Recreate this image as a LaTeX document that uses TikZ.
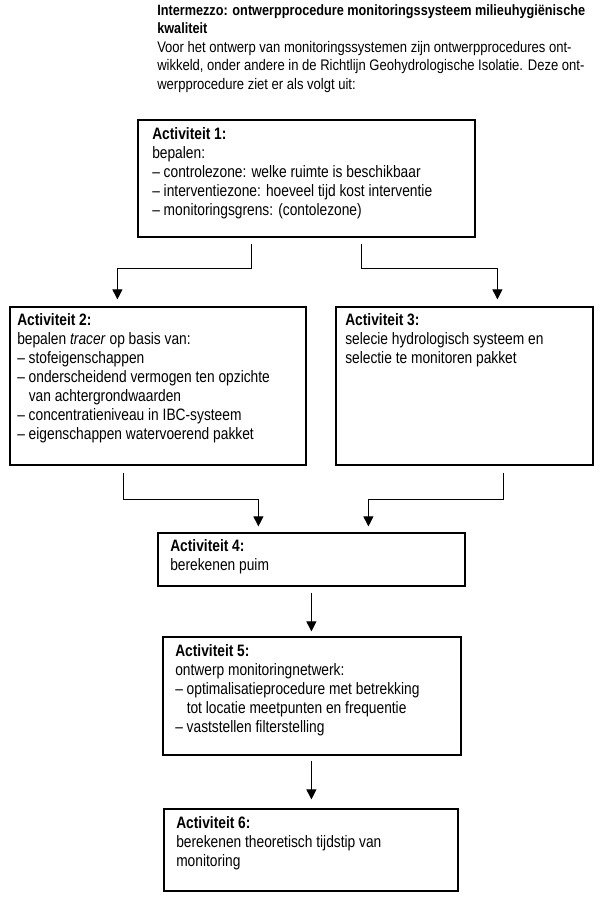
\documentclass[tikz,border=0pt]{standalone}
\usepackage{fontspec}
\setmainfont{Liberation Sans}[FakeStretch=0.833]
\newfontfamily\headfont{Liberation Sans}[FakeStretch=0.85]
\newfontfamily\headbold{Liberation Sans Bold}[FakeStretch=0.85]
\usetikzlibrary{arrows.meta,fit,calc}
\begin{document}
\begin{tikzpicture}[x=0.75pt,y=-0.75pt,
  box/.style={draw, line width=0.9pt, inner sep=0pt, rectangle},
  txt/.style={inner sep=0pt, anchor=north west, align=left, font=\fontsize{12.4}{14.25}\selectfont},
  conn/.style={line width=0.7pt, -{Triangle[width=7.5pt,length=7.5pt]}}]
\useasboundingbox (0,0) rectangle (603,900);
\node[txt, font=\headfont\fontsize{11.5}{13.9}\selectfont] (head) at (157,4)
  {{\headbold\fontsize{11.2}{13.9}\selectfont Intermezzo: ontwerpprocedure monitoringssysteem milieuhygiënische}\\
   {\headbold\fontsize{11.2}{13.9}\selectfont kwaliteit}\\
   Voor het ontwerp van monitoringssystemen zijn ontwerpprocedures ont-\\
   wikkeld, onder andere in de Richtlijn Geohydrologische Isolatie. Deze ont-\\
   werpprocedure ziet er als volgt uit:};
\node[box, fit={(138,120)(475,237)}] (b1) {};
\node[box, fit={(10,307)(306,465)}] (b2) {};
\node[box, fit={(336,307)(593,465)}] (b3) {};
\node[box, fit={(158,533)(465,586)}] (b4) {};
\node[box, fit={(163,637)(461,755)}] (b5) {};
\node[box, fit={(164,809)(458,891)}] (b6) {};
\node[txt] (t1) at (152,127)
  {\textbf{Activiteit 1:}\\
   bepalen:\\
   – controlezone: welke ruimte is beschikbaar\\
   – interventiezone: hoeveel tijd kost interventie\\
   – monitoringsgrens: (contolezone)};
\node[txt] (t2) at (17,313)
  {\textbf{Activiteit 2:}\\
   bepalen \textit{tracer} op basis van:\\
   – stofeigenschappen\\
   – onderscheidend vermogen ten opzichte\\
   \phantom{– }van achtergrondwaarden\\
   – concentratieniveau in IBC-systeem\\
   – eigenschappen watervoerend pakket};
\node[txt] (t3) at (345,313)
  {\textbf{Activiteit 3:}\\
   selecie hydrologisch systeem en\\
   selectie te monitoren pakket};
\node[txt] (t4) at (170,539)
  {\textbf{Activiteit 4:}\\
   berekenen puim};
\node[txt] (t5) at (175,644)
  {\textbf{Activiteit 5:}\\
   ontwerp monitoringnetwerk:\\
   – optimalisatieprocedure met betrekking\\
   \phantom{– }tot locatie meetpunten en frequentie\\
   – vaststellen filterstelling};
\node[txt] (t6) at (176,816)
  {\textbf{Activiteit 6:}\\
   berekenen theoretisch tijdstip van\\
   monitoring};
\draw[conn] ($(b1.south west)+(114,6)$) -- ++(0,25) -| ($(b2.north west)+(108,-7)$);
\draw[conn] ($(b1.south west)+(224,6)$) -- ++(0,25) -| ($(b3.north west)+(162,-7)$);
\draw[conn] ($(b2.south west)+(114,7)$) -- ++(0,27) -| ($(b4.north west)+(101,-6)$);
\draw[conn] ($(b3.south west)+(168,7)$) -- ++(0,27) -| ($(b4.north west)+(211,-6)$);
\draw[conn] ($(b4.south west)+(154,6)$) -- ($(b5.north west)+(149,-5)$);
\draw[conn] ($(b5.south west)+(149,5)$) -- ($(b6.north west)+(148,-9)$);
\end{tikzpicture}
\end{document}
